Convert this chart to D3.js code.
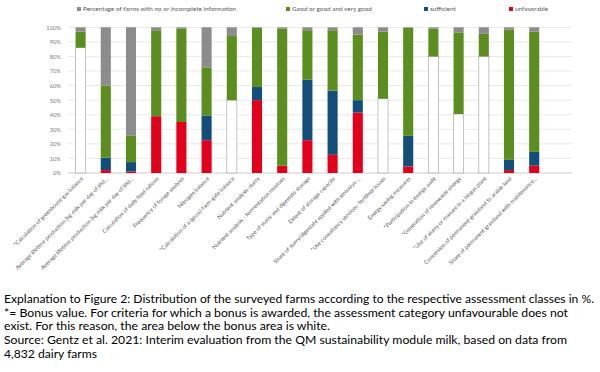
<!DOCTYPE html>
<html>
<head>
<meta charset="utf-8">
<script src="https://cdn.jsdelivr.net/npm/d3@7"></script>
<style>
    body { margin: 0; background: #fff; }
    svg { display: block; font-family: Lato, "Open Sans", sans-serif; }
</style>
</head>
<body>
<svg id="chart" width="600" height="372"></svg>
<script>
// criteria on the x axis
const categories = [
    "*Calculation of greenhouse gas balance",
    "Average lifetime production (kg milk per day of life)…",
    "Average lifetime production (kg milk per day of life)…",
    "Calculation of daily feed rations",
    "Frequency of forage analysis",
    "Nitrogen balance",
    "*Calculation of a (gross) farm-gate balance",
    "Nutrient analysis-slurry",
    "Nutrient analysis - fermentation residues",
    "Type of slurry and digestate storage",
    "Extent of storage capacity",
    "Share of slurry/digestate applied with emission-…",
    "*Use consultancy services- fertiliser issues",
    "Energy saving measures",
    "*Participation in energy audit",
    "*Generation of renewable energy",
    "*Use of slurry or manure in a biogas plant",
    "Conversion of permanent grassland to arable land",
    "Share of permanent grassland with maintenance…"
];

// shares in % (stacked bottom to top: bonus base, unfavorable, sufficient, good, no info)
const bonusBase   = [86, 0, 0, 0, 0, 0, 50, 0, 0, 0, 0, 0, 51, 0, 80, 40.5, 80, 0, 0];
const unfavorable = [0, 2, 1, 39, 35, 22.5, 0, 50, 5, 22.5, 12.5, 41.5, 0, 4.5, 0, 0, 0, 2, 5];
const sufficient  = [0, 8.5, 6.5, 0, 0, 17, 0, 9, 0, 41.5, 44, 8.5, 0, 21, 0, 0, 0, 7, 9.5];
const good        = [11, 49.5, 18, 59, 64, 33, 44, 40.5, 94, 34, 41.5, 45, 46, 74, 19, 56, 15.5, 89.5, 82.5];
const noInfo      = [3, 40, 74.5, 2, 1, 27.5, 6, 0.5, 1, 2, 2, 5, 3, 0.5, 1, 3.5, 4.5, 1.5, 3];

const yTicks = [0, 10, 20, 30, 40, 50, 60, 70, 80, 90, 100];

const legendItems = [
    { name: "Percentage of farms with no or incomplete information", color: "#8c8c8c", x: 77 },
    { name: "Good or good and very good", color: "#5b8e1f", x: 286 },
    { name: "sufficient", color: "#134e7a", x: 424 },
    { name: "unfavorable", color: "#e2001a", x: 509 }
];

const captionLines = [
    "Explanation to Figure 2: Distribution of the surveyed farms according to the respective assessment classes in %.",
    "*= Bonus value. For criteria for which a bonus is awarded, the assessment category unfavourable does not",
    "exist. For this reason, the area below the bonus area is white.",
    "Source: Gentz et al. 2021: Interim evaluation from the QM sustainability module milk, based on data from",
    "4,832 dairy farms"
];

const svg = d3.select("#chart");

const plotLeft = 68, plotRight = 572;
const step = 25.2;

const x = d3.scaleBand()
    .domain(d3.range(categories.length))
    .range([plotLeft, plotLeft + step * categories.length])
    .paddingInner(0.6)
    .paddingOuter(0.3);

const y = d3.scaleLinear().domain([0, 100]).range([173, 27.3]);

// gridlines
svg.append("g").selectAll("line").data(yTicks).join("line")
    .attr("x1", plotLeft).attr("x2", plotRight)
    .attr("y1", d => y(d)).attr("y2", d => y(d))
    .attr("stroke", d => d === 0 ? "#bfbfbf" : "#e3e3e3")
    .attr("stroke-width", 0.8);

// y axis labels
const yAxis = svg.append("g")
    .attr("transform", "translate(" + (plotLeft - 4) + ",0)")
    .call(d3.axisLeft(y).tickValues(yTicks).tickSize(0).tickFormat(d => d + "%"));
yAxis.select(".domain").remove();
yAxis.selectAll("text").attr("fill", "#7f7f7f").style("font-size", "5.8px")
    .style("font-family", "Lato, sans-serif");

// stacked bars
const segments = [
    { values: bonusBase, color: "#ffffff", stroke: "#b4b4b4" },
    { values: unfavorable, color: "#e2001a" },
    { values: sufficient, color: "#134e7a" },
    { values: good, color: "#5b8e1f" },
    { values: noInfo, color: "#8c8c8c" }
];

const bars = svg.append("g");
categories.forEach(function (c, i) {
    let base = 0;
    segments.forEach(function (s) {
        const v = s.values[i];
        if (v > 0) {
            bars.append("rect")
                .attr("x", x(i))
                .attr("width", x.bandwidth())
                .attr("y", y(base + v))
                .attr("height", y(base) - y(base + v))
                .attr("fill", s.color)
                .attr("stroke", s.stroke || "none")
                .attr("stroke-width", s.stroke ? 0.8 : 0);
        }
        base += v;
    });
});

// x axis labels, rotated
svg.append("g").selectAll("text").data(categories).join("text")
    .attr("transform", (d, i) => "translate(" + (x(i) + x.bandwidth() / 2 + 3) + ",179) rotate(-45)")
    .attr("text-anchor", "end")
    .attr("fill", "#595959")
    .style("font-size", "5.6px")
    .text(d => d);

// legend
const legend = svg.append("g").selectAll("g").data(legendItems).join("g")
    .attr("transform", d => "translate(" + d.x + ",9)");
legend.append("rect").attr("x", 0).attr("y", -2).attr("width", 4).attr("height", 4)
    .attr("fill", d => d.color);
legend.append("text").attr("x", 6).attr("y", 2.2)
    .attr("fill", "#595959").style("font-size", "6.4px")
    .text(d => d.name);

// caption below the chart
const captionY = [303.3, 316.7, 330, 344.3, 357.7];
const captionW = [590, 564, 326, 563, 93];
svg.append("g").selectAll("text").data(captionLines).join("text")
    .attr("x", 4)
    .attr("y", (d, i) => captionY[i])
    .attr("textLength", (d, i) => captionW[i])
    .attr("lengthAdjust", "spacingAndGlyphs")
    .attr("fill", "#000")
    .style("font-size", "11.5px")
    .text(d => d);
</script>
</body>
</html>
